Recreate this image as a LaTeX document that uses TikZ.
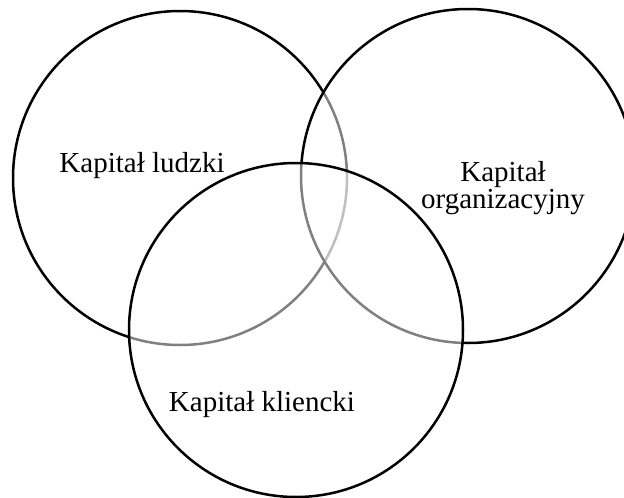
\documentclass[tikz,border=0pt]{standalone}
\usepackage{fontspec}
\setmainfont{Liberation Serif}
\begin{document}
\begin{tikzpicture}[x=1pt,y=-1pt,
  set/.style={circle, minimum size=334pt, inner sep=0pt, draw=black, line width=2.5pt,
              fill=white, fill opacity=0.5, draw opacity=1},
  lbl/.style={font=\fontsize{29}{27}\selectfont, align=center, text opacity=1,
              anchor=base, inner sep=0pt}]
\useasboundingbox (0,0) rectangle (624,498);
% three overlapping sets, later ones veil the outlines beneath them
\node[set] (human) at (180,178) {};
\node[set] (org) at (468,176) {};
\node[set] (client) at (296,330) {};
% labels (placed by the baseline of their last line)
\node[lbl] (humanlbl) at (142,172) {Kapitał ludzki};
\node[lbl] (orglbl) at (503,208) {Kapitał\\organizacyjny};
\node[lbl] (clientlbl) at (262,411) {Kapitał kliencki};
\end{tikzpicture}
\end{document}
